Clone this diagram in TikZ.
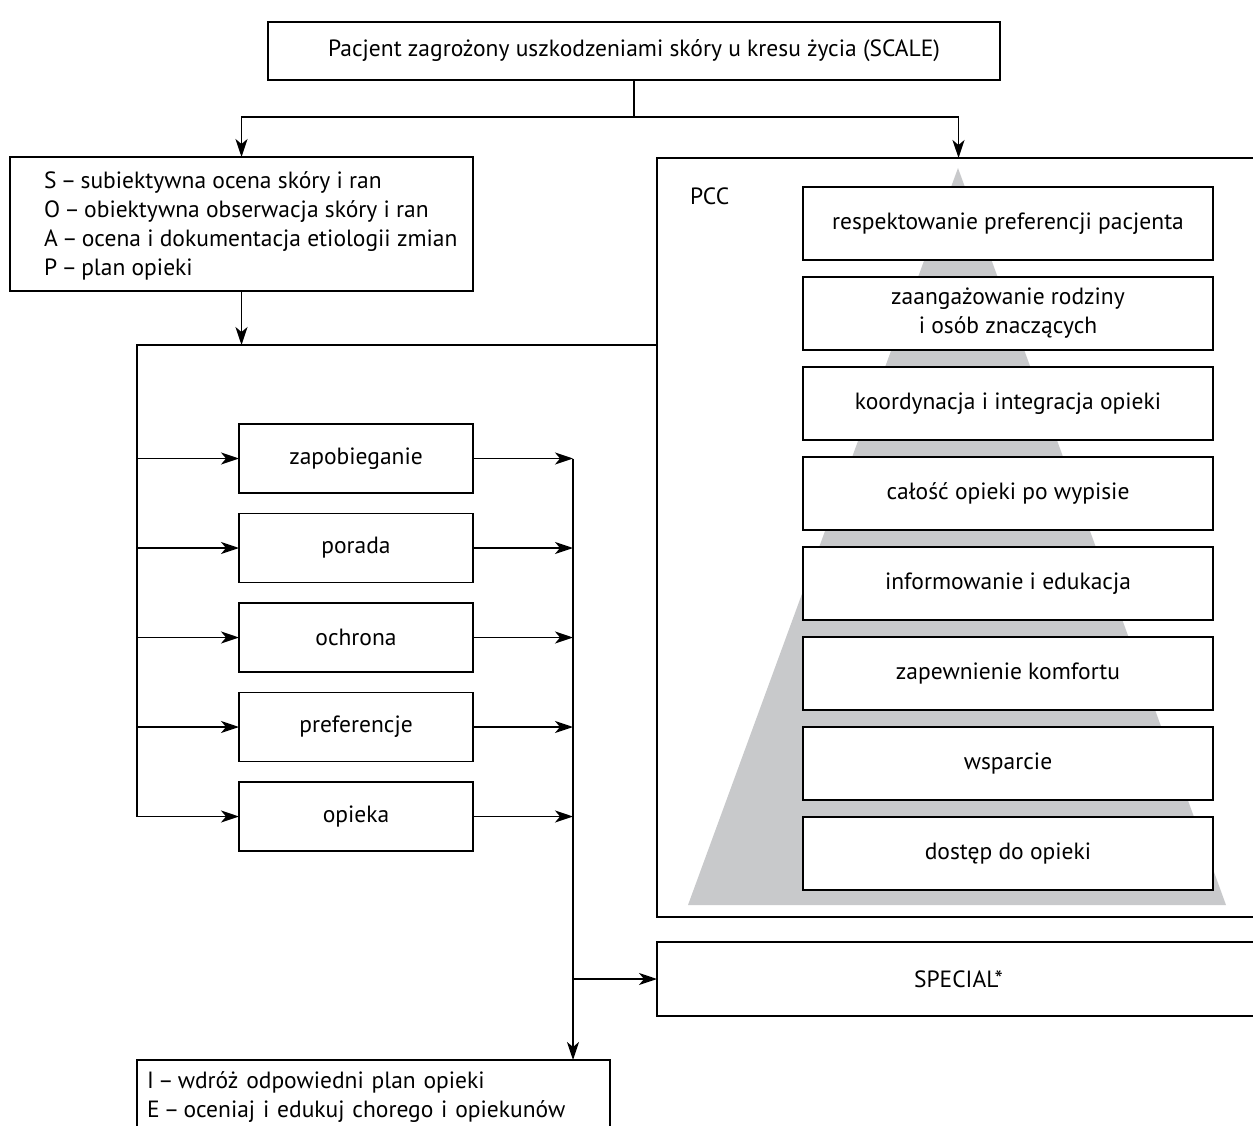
\documentclass[tikz,border=0pt]{standalone}
\usepackage{fontspec}
\setmainfont{PT Sans}
\usetikzlibrary{arrows.meta}
\definecolor{pyr}{RGB}{200,201,203}
\newcommand{\dsh}{\hspace{0.18em}–\hspace{0.18em}}
\begin{document}
\begin{tikzpicture}[x=1pt,y=-1pt,
  every node/.style={font=\fontsize{23.5}{29}\selectfont},
  box/.style={draw,line width=1.4pt,anchor=north west,inner sep=0pt,outer sep=0pt},
  pbox/.style={box,fill=white,minimum width=410pt,minimum height=73pt,align=center},
  lbox/.style={box,minimum width=234pt,minimum height=69pt},
  conn/.style={line width=1.4pt},
  arr/.style={conn,-{Stealth[length=18pt,width=12pt,inset=5pt]}}]
\useasboundingbox (0,0) rectangle (1253,1126);
\clip (0,0) rectangle (1253,1126);
% top
\node[box,minimum width=732pt,minimum height=58pt] (top) at (268,22) {Pacjent zagrożony uszkodzeniami skóry u kresu życia (SCALE)};
% SOAP
\node[box,minimum width=463pt,minimum height=134pt] (soap) at (10,157) {};
\node[anchor=west,align=left,inner sep=0pt] (soaptxt) at ([xshift=34pt,yshift=-2pt]soap.west) {S\dsh subiektywna ocena skóry i ran\\O\dsh obiektywna obserwacja skóry i ran\\A\dsh ocena i dokumentacja etiologii zmian\\P\dsh plan opieki};
% PCC
\node[box,minimum width=603pt,minimum height=759pt] (pcc) at (657,158) {};
\fill[pyr] (958,168) -- (1226,905) -- (688,905) -- cycle;
\node[anchor=west,inner sep=0pt] (pcclbl) at (690,196) {PCC};
\node[pbox] (p1) at (803,187) {respektowanie preferencji pacjenta};
\node[pbox] (p2) at (803,277) {zaangażowanie rodziny\\i osób znaczących};
\node[pbox] (p3) at (803,367) {koordynacja i integracja opieki};
\node[pbox] (p4) at (803,457) {całość opieki po wypisie};
\node[pbox] (p5) at (803,547) {informowanie i edukacja};
\node[pbox] (p6) at (803,637) {zapewnienie komfortu};
\node[pbox] (p7) at (803,727) {wsparcie};
\node[pbox] (p8) at (803,817) {dostęp do opieki};
% left boxes
\node[lbox] (b1) at (239,424) {zapobieganie};
\node[lbox] (b2) at (239,513.5) {porada};
\node[lbox] (b3) at (239,603) {ochrona};
\node[lbox] (b4) at (239,692.5) {preferencje};
\node[lbox] (b5) at (239,782) {opieka};
% SPECIAL
\node[box,minimum width=603pt,minimum height=74pt] (spec) at (657,942) {SPECIAL*};
% IE
\node[box,text width=453pt,inner xsep=10pt,inner ysep=12pt,align=left] (ie) at (137,1060) {I\dsh wdróż odpowiedni plan opieki\\E\dsh oceniaj i edukuj chorego i opiekunów};
% connectors
\coordinate (jt) at (top.south |- 0,117);
\coordinate (jl) at (137,345);
\coordinate (jv) at (573,459);
\draw[conn] (top.south) -- (jt);
\draw[arr] (jt) -| (soap.north);
\draw[arr] (jt) -| (pcc.north);
\draw[arr] (soap.south) -- (soap.south |- jl);
\draw[conn] (pcc.west |- jl) -- (jl) -- (jl |- b5.west);
\foreach \b in {b1,b2,b3,b4,b5}{
  \draw[arr] (jl |- \b.west) -- (\b.west);
  \draw[arr] (\b.east) -- (jv |- \b.east);
}
\draw[arr] (jv |- b1.east) -- (jv |- ie.north);
\draw[arr] (jv |- spec.west) -- (spec.west);
\end{tikzpicture}
\end{document}
